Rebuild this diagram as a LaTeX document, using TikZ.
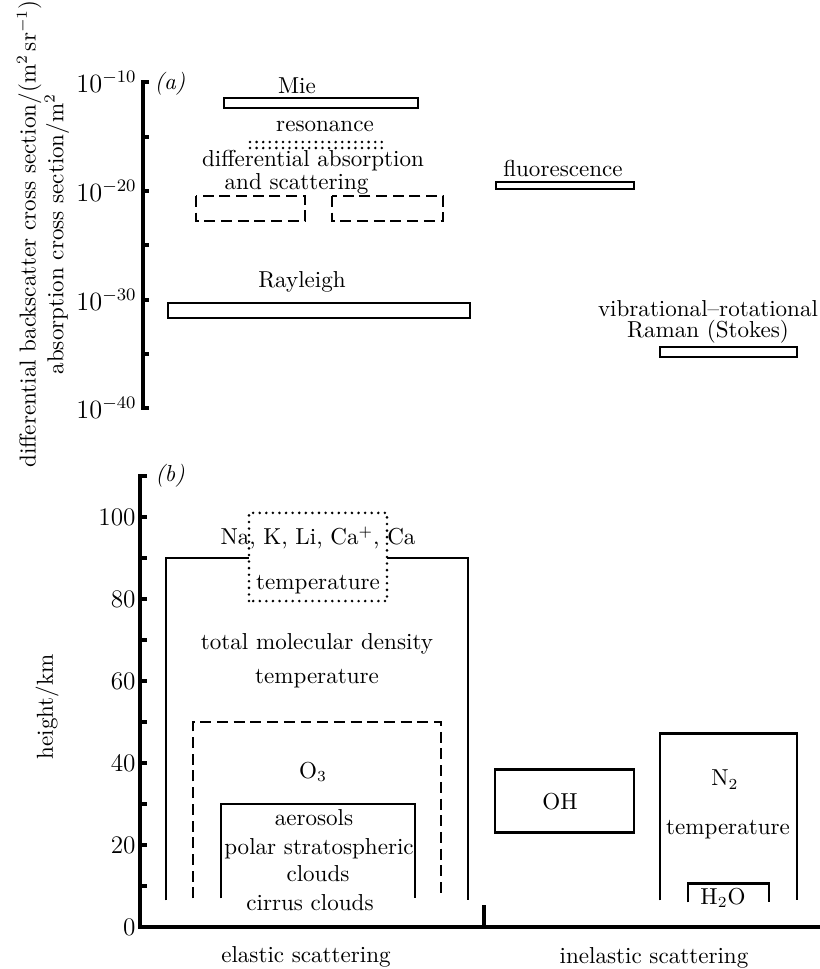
\documentclass[tikz,border=0pt]{standalone}
\usepackage{amsmath}
\usepackage{tikz}

\tikzset{
  axisline/.style={line width=1.5pt},
  bandbox/.style={draw, line width=1.1pt},
  rangeline/.style={line width=1.3pt},
  thinline/.style={line width=0.7pt},
  dotrule/.style={line width=1.3pt, line cap=round, dash pattern=on 0pt off 3pt},
  dashrule/.style={line width=1.2pt, dash pattern=on 5pt off 2.6pt},
  txt/.style={inner sep=0pt},
  ticklab/.style={inner sep=0pt, anchor=east, font=\fontsize{11.5}{13.8}\selectfont}
}

\begin{document}
\begin{tikzpicture}[x=0.16mm, y=-0.16mm, font=\fontsize{10.5}{12.6}\selectfont]
  \useasboundingbox (0,0) rectangle (820,969);

  % ---- (a) cross sections, pixel coordinates ----
  \draw[axisline] (149,82) -- (143,82) -- (143,408) -- (149,408);
  \foreach \yy in {137,191,245,300,354}
    \draw[axisline] (143,\yy) -- (149,\yy);
  \foreach \yy/\ee in {82/10,191/20,300/30,408/40}
    \node[ticklab] (dec\ee) at (137,\yy) {$10^{-\ee}$};
  \node[txt, rotate=90, align=center] (ylabA) at (43,234)
    {differential backscatter cross section/(m$^2$\,sr$^{-1}$)\\ absorption cross section/m$^2$};
  \node[txt] (panA) at (170,84) {\textit{(a)}};

  \draw[bandbox] (224,98) rectangle (418,108);
  \node[txt] (mieLab) at (297,86) {Mie};
  \node[txt] (resLab) at (325,126) {resonance};
  \draw[dotrule] (250,142) -- (388,142);
  \draw[dotrule] (250,148) -- (388,148);
  \node[txt, align=center] (difLab) at (313,172)
    {differential absorption\\[-2.2pt] and scattering\hspace*{15pt}};
  \draw[bandbox, dashrule] (196,196) rectangle (305,221);
  \draw[bandbox, dashrule] (332,196) rectangle (443,221);
  \node[txt] (rayLab) at (302,282) {Rayleigh};
  \draw[bandbox] (168,303) rectangle (470,318);
  \node[txt] (fluLab) at (563,168) {fluorescence};
  \draw[bandbox] (496,182) rectangle (634,189);
  \node[txt, align=center] (vibLab) at (708,322)
    {vibrational--rotational\\[-3.1pt] Raman (Stokes)};
  \draw[bandbox] (660,347) rectangle (797,357);

  % ---- (b) heights, x in pixels, y in km ----
  \begin{scope}[shift={(0,927)}, y=0.656mm]
    \draw[axisline] (147,110) -- (140,110) -- (140,0) -- (820,0);
    \foreach \h in {10,20,...,100}
      \draw[axisline] (140,\h) -- (147,\h);
    \draw[axisline] (484,0) -- (484,5.4);
    \foreach \h in {0,20,...,100}
      \node[ticklab] (km\h) at (136,\h) {\h};
    \node[txt, rotate=90] (hLab) at (47,53.7) {height/km};
    \node[txt] (panB) at (170,110) {\textit{(b)}};

    % elastic scattering
    \draw[rangeline] (166,6.5) -- (166,90) -- (249,90);
    \draw[rangeline] (387,90) -- (468,90) -- (468,6.5);
    \draw[dotrule] (249,79.5) rectangle (387,101);
    \node[txt] (naLab) at (318,94.9) {Na, K, Li, Ca$^+$, Ca};
    \node[txt] (tmpHi) at (318,83.4) {temperature};
    \node[txt] (totLab) at (317,69) {total molecular density};
    \node[txt] (tmpLab) at (317,60.5) {temperature};
    \draw[rangeline, dashrule] (193,7) -- (193,50) -- (441,50) -- (441,7);
    \node[txt] (ozLab) at (313,37.8) {O$_3$};
    \draw[thinline] (221,7) -- (221,30) -- (415,30) -- (415,7);
    \node[txt] (aerLab) at (314,26.6) {aerosols};
    \node[txt] (pscLab) at (319,19) {polar stratospheric};
    \node[txt] (cldLab) at (318,12.9) {clouds};
    \node[txt] (cirLab) at (310,5.9) {cirrus clouds};
    \node[txt] (elaLab) at (306,-7.3) {elastic scattering};

    % inelastic scattering
    \draw[rangeline] (495,23) rectangle (634,38.4);
    \node[txt] (ohLab) at (560,30.5) {OH};
    \draw[rangeline] (660,6.5) -- (660,47.2) -- (797,47.2) -- (797,6.5);
    \node[txt] (ntwLab) at (725,35.9) {N$_2$};
    \node[txt] (tmpN) at (728,23.7) {temperature};
    \draw[rangeline] (688,6) -- (688,10.6) -- (769,10.6) -- (769,6);
    \node[txt] (h2oLab) at (723,7.1) {H$_2$O};
    \node[txt] (inelLab) at (654,-7.6) {inelastic scattering};
  \end{scope}
\end{tikzpicture}
\end{document}
